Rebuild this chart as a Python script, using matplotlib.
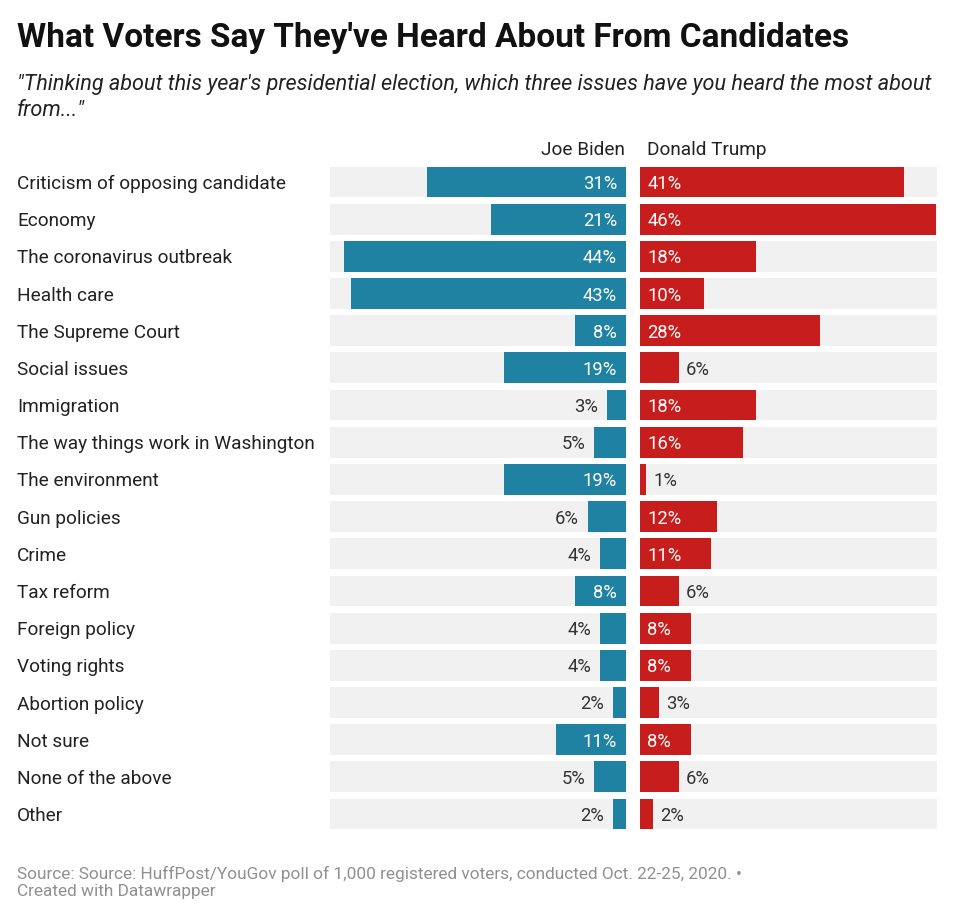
import matplotlib.pyplot as plt
from matplotlib import transforms

plt.rcParams['font.family'] = ['Roboto', 'DejaVu Sans']

issues = [
    "Criticism of opposing candidate", "Economy", "The coronavirus outbreak",
    "Health care", "The Supreme Court", "Social issues", "Immigration",
    "The way things work in Washington", "The environment", "Gun policies",
    "Crime", "Tax reform", "Foreign policy", "Voting rights",
    "Abortion policy", "Not sure", "None of the above", "Other",
]
biden = [31, 21, 44, 43, 8, 19, 3, 5, 19, 6, 4, 8, 4, 4, 2, 11, 5, 2]
trump = [41, 46, 18, 10, 28, 6, 18, 16, 1, 12, 11, 6, 8, 8, 3, 8, 6, 2]

BLUE = "#1f82a3"
RED = "#c71e1d"
BG = "#f1f1f1"
W, H = 960, 917
XMAX = 46.2


def box(x0, y0, x1, y1):
    # pixel box (top-left origin) -> figure fraction rect
    return [x0 / W, 1 - y1 / H, (x1 - x0) / W, (y1 - y0) / H]


fig = plt.figure(figsize=(W / 100, H / 100), dpi=100)
fig.patch.set_facecolor("white")

row_h = 37.18
top = 182 - row_h / 2
bottom = 814 + row_h / 2
ax_b = fig.add_axes(box(330, top, 626, bottom))
ax_t = fig.add_axes(box(640, top, 937, bottom))

n = len(issues)
ypos = list(range(n))
for ax in (ax_b, ax_t):
    ax.barh(ypos, [XMAX] * n, height=0.83, color=BG, zorder=1)
    ax.set_ylim(n - 0.5, -0.5)
    ax.set_xlim(0, XMAX)
    ax.axis("off")
ax_b.invert_xaxis()

ax_b.barh(ypos, biden, height=0.83, color=BLUE, zorder=2)
ax_t.barh(ypos, trump, height=0.83, color=RED, zorder=2)

NUM_FS = 13.2
LAB_FS = 13.7
off_b = transforms.offset_copy(ax_b.transData, fig=fig, x=-6.5, y=0, units="points")
off_t = transforms.offset_copy(ax_t.transData, fig=fig, x=5.2, y=0, units="points")
for i, (b, t) in enumerate(zip(biden, trump)):
    if b >= 8:
        ax_b.text(0, i, f"{b}%", transform=off_b, ha="right", va="center_baseline",
                  color="white", fontsize=NUM_FS, zorder=3)
    else:
        ax_b.text(b, i, f"{b}%", transform=off_b, ha="right", va="center_baseline",
                  color="#333333", fontsize=NUM_FS, zorder=3)
    if t >= 8:
        ax_t.text(0, i, f"{t}%", transform=off_t, ha="left", va="center_baseline",
                  color="white", fontsize=NUM_FS, zorder=3)
    else:
        ax_t.text(t, i, f"{t}%", transform=off_t, ha="left", va="center_baseline",
                  color="#333333", fontsize=NUM_FS, zorder=3)
    fig.text(17 / W, 1 - (182 + i * row_h) / H, issues[i], ha="left",
             va="center_baseline", fontsize=LAB_FS, color="#222222")

fig.text(625 / W, 1 - 148 / H, "Joe Biden", ha="right", va="center_baseline",
         fontsize=LAB_FS, color="#222222")
fig.text(647 / W, 1 - 148 / H, "Donald Trump", ha="left", va="center_baseline",
         fontsize=LAB_FS, color="#222222")

fig.text(17 / W, 1 - 35 / H, "What Voters Say They've Heard About From Candidates",
         ha="left", va="center_baseline", fontsize=24, fontweight="bold", color="#111111")
fig.text(17 / W, 1 - 82 / H,
         "\"Thinking about this year's presidential election, which three issues have you heard the most about",
         ha="left", va="center_baseline", fontsize=15.6, style="italic", color="#222222")
fig.text(17 / W, 1 - 108 / H, "from...\"", ha="left", va="center_baseline",
         fontsize=15.6, style="italic", color="#222222")

fig.text(17 / W, 1 - 872 / H,
         "Source: Source: HuffPost/YouGov poll of 1,000 registered voters, conducted Oct. 22-25, 2020. \u2022",
         ha="left", va="center_baseline", fontsize=12.4, color="#909090")
fig.text(17 / W, 1 - 890 / H, "Created with Datawrapper", ha="left",
         va="center_baseline", fontsize=12.4, color="#909090")

fig.savefig("out.png", dpi=100, facecolor="white")
